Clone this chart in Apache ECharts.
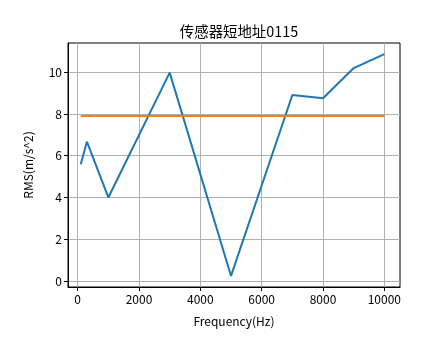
<!DOCTYPE html>
<html>
<head>
<meta charset="utf-8">
<script src="https://cdn.jsdelivr.net/npm/echarts@6/dist/echarts.min.js"></script>
<style>html,body{margin:0;padding:0;background:#fff}#c{width:444px;height:359px}</style>
</head>
<body>
<div id="c"></div>
<script>
const titleText = '传感器短地址0115';
const freqs = [100, 300, 1000, 3000, 5000, 7000, 8000, 9000, 10000];
const rms = [5.59, 6.67, 4.0, 9.98, 0.24, 8.91, 8.75, 10.2, 10.87];
const limit = [7.9, 7.9, 7.9, 7.9, 7.9, 7.9, 7.9, 7.9, 7.9];
const xTicks = [0, 2000, 4000, 6000, 8000, 10000];
const yTicks = [0, 2, 4, 6, 8, 10];

const font = "'Noto Sans CJK SC', sans-serif";
const chart = echarts.init(document.getElementById('c'), null, {renderer: 'canvas'});
const pair = (xs, ys) => xs.map((x, i) => [x, ys[i]]);
chart.setOption({
  animation: false,
  backgroundColor: '#fff',
  title: {
    text: titleText, left: 234, top: 19, textAlign: 'center',
    textStyle: {fontFamily: font, fontSize: 14.4, fontWeight: 'normal', color: '#000'}
  },
  grid: {left: 68, right: 44, top: 43, bottom: 72, show: true, borderColor: '#000', borderWidth: 1, backgroundColor: '#fff'},
  xAxis: {
    type: 'value', min: -316, max: 10510,
    name: 'Frequency(Hz)', nameLocation: 'middle', nameGap: 28,
    nameTextStyle: {fontFamily: font, fontSize: 12, color: '#000'},
    axisLine: {show: true, onZero: false, lineStyle: {color: '#000'}},
    axisTick: {show: true, length: 4, customValues: xTicks, lineStyle: {color: '#000'}},
    axisLabel: {customValues: xTicks, formatter: v => String(v), fontFamily: font, fontSize: 12, color: '#000', margin: 6},
    splitLine: {show: true, lineStyle: {color: '#b0b0b0', width: 1}}
  },
  yAxis: {
    type: 'value', min: -0.29, max: 11.4,
    name: 'RMS(m/s^2)', nameLocation: 'middle', nameGap: 34, nameRotate: 90,
    nameTextStyle: {fontFamily: font, fontSize: 12, color: '#000'},
    axisLine: {show: true, onZero: false, lineStyle: {color: '#000'}},
    axisTick: {show: true, length: 4, customValues: yTicks, lineStyle: {color: '#000'}},
    axisLabel: {customValues: yTicks, formatter: v => String(v), fontFamily: font, fontSize: 12, color: '#000', margin: 6},
    splitLine: {show: true, lineStyle: {color: '#b0b0b0', width: 1}}
  },
  series: [
    {type: 'line', data: pair(freqs, rms), showSymbol: false, lineStyle: {color: '#1f77b4', width: 2}, itemStyle: {color: '#1f77b4'}, z: 3},
    {type: 'line', data: pair(freqs, limit), showSymbol: false, lineStyle: {color: '#ff7f0e', width: 2}, itemStyle: {color: '#ff7f0e'}, z: 4}
  ]
});
</script>
</body>
</html>
